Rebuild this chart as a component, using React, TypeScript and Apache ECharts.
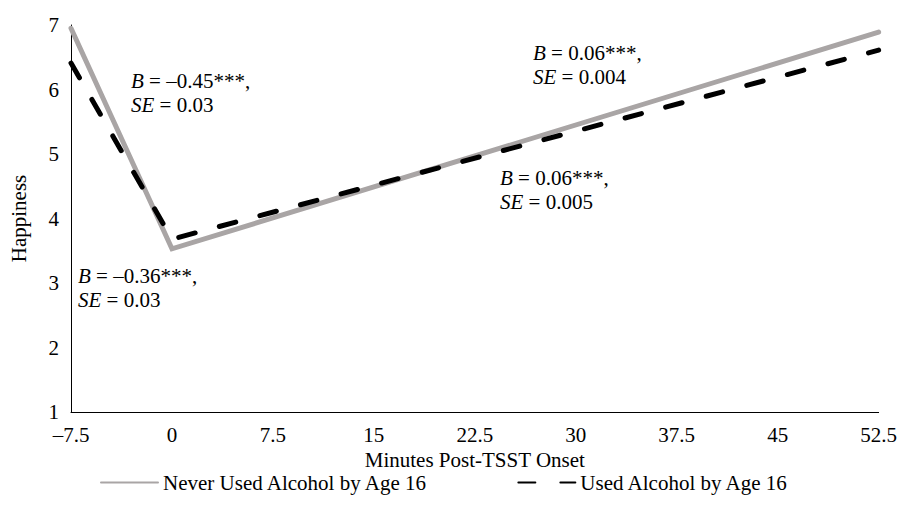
import React, { useEffect, useRef } from "react";
import * as echarts from "echarts";

const minutes = [-7.5, 0, 52.5];
const neverUsed = [6.95, 3.53, 6.89];
const usedAlcohol = [6.41, 3.68, 6.61];
const xTicks = { min: -7.5, max: 52.5, interval: 7.5 };
const yTicks = { min: 1, max: 7, interval: 1 };
const seriesNames = ["Never Used Alcohol by Age 16", "Used Alcohol by Age 16"];
const annotations = [
  { b: "–0.45***,", se: "0.03", left: 131, top: 69 },
  { b: "–0.36***,", se: "0.03", left: 78, top: 264 },
  { b: "0.06***,", se: "0.004", left: 533, top: 41 },
  { b: "0.06***,", se: "0.005", left: 500, top: 166 },
];

const FONT = "Times New Roman, Liberation Serif, DejaVu Serif, serif";
const FS = 21;

export default function App() {
  const ref = useRef<HTMLDivElement>(null);
  useEffect(() => {
    if (!ref.current) return;
    const chart = echarts.init(ref.current, null, { renderer: "svg" });
    const fmt = (v: number) => (v < 0 ? "–" + Math.abs(v) : String(v));
    chart.setOption({
      animation: false,
      backgroundColor: "#fff",
      textStyle: { fontFamily: FONT, color: "#000" },
      grid: { left: 68, right: 20, top: 25, bottom: 104, containLabel: false },
      xAxis: {
        type: "value",
        min: xTicks.min,
        max: xTicks.max,
        interval: xTicks.interval,
        name: "Minutes Post-TSST Onset",
        nameLocation: "middle",
        nameGap: 29,
        nameTextStyle: { fontFamily: FONT, fontSize: FS, color: "#000" },
        axisLine: { show: true, onZero: false, lineStyle: { color: "#000", width: 1 } },
        axisTick: { show: false },
        splitLine: { show: false },
        axisLabel: { formatter: fmt, fontFamily: FONT, fontSize: FS, color: "#000", margin: 12 },
      },
      yAxis: {
        type: "value",
        min: yTicks.min,
        max: yTicks.max,
        interval: yTicks.interval,
        name: "Happiness",
        nameLocation: "middle",
        nameGap: 42,
        nameTextStyle: { fontFamily: FONT, fontSize: FS, color: "#000" },
        axisLine: { show: true, onZero: false, lineStyle: { color: "#000", width: 1 } },
        axisTick: { show: false },
        splitLine: { show: false },
        axisLabel: { fontFamily: FONT, fontSize: FS, color: "#000", margin: 12 },
      },
      legend: {
        left: 95,
        top: 467,
        itemWidth: 57,
        itemHeight: 14,
        itemGap: 89,
        itemStyle: { opacity: 0 },
        textStyle: { fontFamily: FONT, fontSize: FS, color: "#000" },
        data: seriesNames,
      },
      series: [
        {
          name: seriesNames[0],
          type: "line",
          symbol: "none",
          data: minutes.map((m, i) => [m, neverUsed[i]]),
          lineStyle: { color: "#a9a5a5", width: 5, cap: "round", join: "miter" },
          itemStyle: { color: "#a9a5a5" },
          z: 2,
        },
        {
          name: seriesNames[1],
          type: "line",
          symbol: "none",
          data: minutes.map((m, i) => [m, usedAlcohol[i]]),
          lineStyle: { color: "#000", width: 5, type: [17, 25], cap: "round", join: "round" },
          itemStyle: { color: "#000" },
          z: 3,
        },
      ],
      graphic: annotations.map((a) => ({
        type: "text",
        left: a.left,
        top: a.top,
        style: {
          text: `{i|B} = ${a.b}\n{i|SE} = ${a.se}`,
          fontFamily: FONT,
          fontSize: FS,
          lineHeight: 24,
          fill: "#000",
          rich: {
            i: { fontFamily: FONT, fontSize: FS, fontStyle: "italic", lineHeight: 24 },
          },
        },
      })),
    });
    return () => chart.dispose();
  }, []);
  return (
    <div
      ref={ref}
      style={{ position: "fixed", left: 0, top: 0, width: 900, height: 516 }}
    />
  );
}
